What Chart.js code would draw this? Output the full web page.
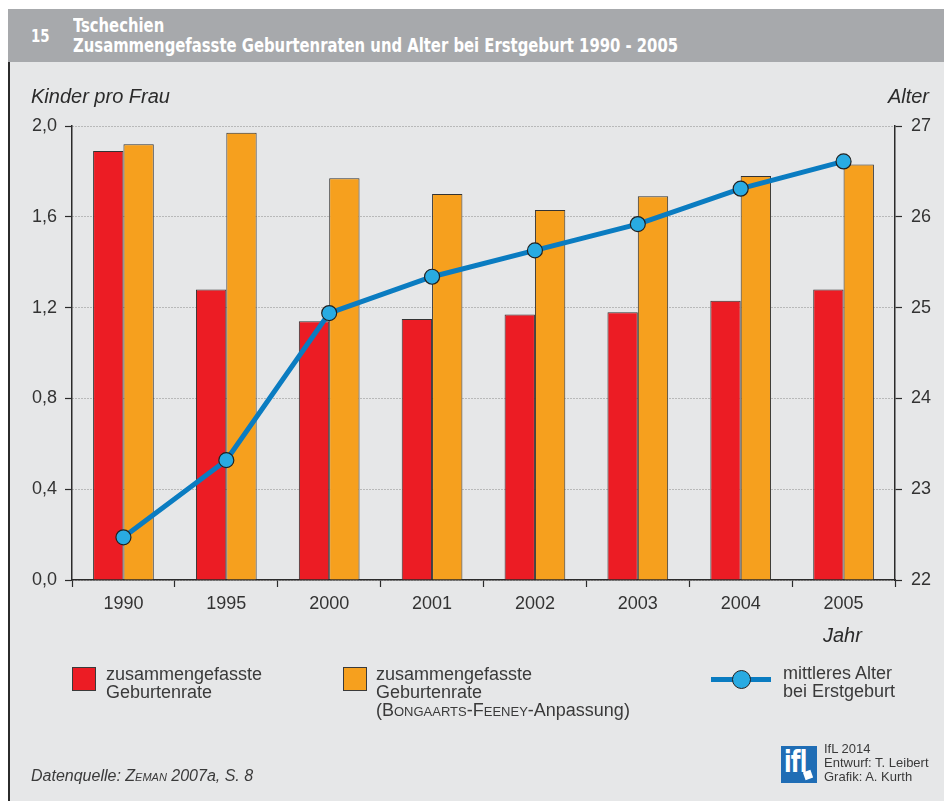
<!DOCTYPE html>
<html lang="de">
<head>
<meta charset="utf-8">
<title>Tschechien – Geburtenraten und Alter bei Erstgeburt</title>
<script src="https://cdn.jsdelivr.net/npm/chart.js@4"></script>
<style>
  html, body { margin: 0; padding: 0; background: #fff; }
  body { width: 944px; height: 801px; position: relative; overflow: hidden;
         font-family: "Liberation Sans", Arial, sans-serif; color: #333; }
  .abs { position: absolute; white-space: nowrap; }
  #head { left: 8px; top: 9px; width: 936px; height: 53px; background: #a7a9ac; }
  #panel { left: 8px; top: 62px; width: 936px; height: 739px; background: #e6e7e8;
           border-left: 2px solid #2b2b2b; box-sizing: border-box; }
  #c { position: absolute; left: 0; top: 0; }
  .hd { color: #fff; font-family: "DejaVu Sans Condensed", "Liberation Sans", sans-serif;
        font-weight: bold; transform: scaleX(0.824); transform-origin: 0 0; }
  .axt { font-style: italic; font-size: 20px; line-height: 20px; color: #2b2b2b; }
  .leg { font-size: 18px; line-height: 18px; color: #3a3a3a; }
  .sw { position: absolute; width: 22px; height: 22px; border: 1px solid #3a3a3a; }
  .sc { font-variant: small-caps; }
</style>
</head>
<body>
<div id="head" class="abs"></div>
<div id="panel" class="abs"></div>

<div class="abs hd" style="left:31px; top:27px; font-size:18px; line-height:18px;">15</div>
<div class="abs hd" style="left:73px; top:15px; font-size:20px; line-height:20px;">Tschechien<br>Zusammengefasste Geburtenraten und Alter bei Erstgeburt 1990 - 2005</div>

<canvas id="c" width="944" height="801"></canvas>

<div class="abs axt" style="left:31px; top:86px;">Kinder pro Frau</div>
<div class="abs axt" style="right:15px; top:86px;">Alter</div>
<div class="abs axt" style="left:823px; top:625px;">Jahr</div>

<!-- legend -->
<div class="sw" style="left:72px; top:667px; background:#ec1c24;"></div>
<div class="abs leg" style="left:106px; top:665px;">zusammengefasste<br>Geburtenrate</div>
<div class="sw" style="left:343px; top:667px; background:#f6a01e;"></div>
<div class="abs leg" style="left:376px; top:665px;">zusammengefasste<br>Geburtenrate<br>(<span class="sc">Bongaarts</span>-<span class="sc">Feeney</span>-Anpassung)</div>
<div class="abs" style="left:711px; top:677px; width:60px; height:5px; background:#0a7cc1;"></div>
<div class="abs" style="left:732px; top:670px; width:17px; height:17px; border-radius:50%; background:#29abe2; border:1px solid #222;"></div>
<div class="abs leg" style="left:783px; top:664px;">mittleres Alter<br>bei Erstgeburt</div>

<!-- source and credits -->
<div class="abs" style="left:31px; top:768px; font-size:16px; line-height:16px; font-style:italic; color:#3a3a3a;">Datenquelle: <span class="sc">Zeman</span> 2007a, S. 8</div>
<div class="abs" style="left:781px; top:746px; width:36px; height:37px; background:#1f6db5; overflow:hidden;">
  <div class="abs hd" style="left:3px; top:1px; font-size:30px; line-height:30px; letter-spacing:-1px;">ifl</div>
  <div class="abs" style="left:23px; top:25px; width:8px; height:8px; background:#fff; transform:rotate(-20deg);"></div>
</div>
<div class="abs" style="left:824px; top:742px; font-size:13px; line-height:14px; color:#3a3a3a;">IfL 2014<br>Entwurf: T. Leibert<br>Grafik: A. Kurth</div>

<script>
const years = ['1990', '1995', '2000', '2001', '2002', '2003', '2004', '2005'];
const tfr = [1.89, 1.28, 1.14, 1.15, 1.17, 1.18, 1.23, 1.28];      // zusammengefasste Geburtenrate
const tfrAdj = [1.92, 1.97, 1.77, 1.70, 1.63, 1.69, 1.78, 1.83];   // Bongaarts-Feeney
const ageFirst = [22.47, 23.32, 24.94, 25.34, 25.63, 25.92, 26.31, 26.61];
const leftTicks = ['0,0', '0,4', '0,8', '1,2', '1,6', '2,0'];
const rightTicks = ['22', '23', '24', '25', '26', '27'];

const tickFont = { family: '"Liberation Sans", Arial, sans-serif', size: 18 };
const ink = '#2b2b2b';

const chart = new Chart(document.getElementById('c').getContext('2d'), {
    type: 'bar',
    data: {
        labels: years,
        datasets: [
            {
                type: 'line',
                label: 'mittleres Alter bei Erstgeburt',
                data: ageFirst,
                yAxisID: 'y1',
                order: 0,
                borderColor: '#0a7cc1',
                borderWidth: 5,
                tension: 0,
                pointRadius: 7.5,
                pointBackgroundColor: '#29abe2',
                pointBorderColor: '#222',
                pointBorderWidth: 1.2
            },
            {
                label: 'zusammengefasste Geburtenrate',
                data: tfr,
                yAxisID: 'y',
                order: 1,
                backgroundColor: '#ec1c24',
                borderColor: '#333',
                borderWidth: 1,
                categoryPercentage: 0.59,
                barPercentage: 1.0
            },
            {
                label: 'zusammengefasste Geburtenrate (Bongaarts-Feeney-Anpassung)',
                data: tfrAdj,
                yAxisID: 'y',
                order: 1,
                backgroundColor: '#f6a01e',
                borderColor: '#333',
                borderWidth: 1,
                categoryPercentage: 0.59,
                barPercentage: 1.0
            }
        ]
    },
    options: {
        responsive: false,
        animation: false,
        devicePixelRatio: 1,
        layout: { padding: { top: 126, left: 0, right: 0, bottom: 0 } },
        plugins: { legend: { display: false }, tooltip: { enabled: false } },
        scales: {
            x: {
                afterFit: s => { s.height = 221; },
                grid: { drawOnChartArea: false, offset: true, tickLength: 7, tickColor: ink, tickWidth: 1.2 },
                border: { color: ink, width: 1.5 },
                ticks: { font: tickFont, color: '#333', padding: 6, maxRotation: 0 }
            },
            y: {
                position: 'left',
                min: 0, max: 2,
                afterFit: s => { s.width = 72; },
                afterBuildTicks: s => { s.ticks = leftTicks.map((t, i) => ({ value: i * 0.4 })); },
                grid: { color: '#8a8a8a', lineWidth: 1, borderDash: [1, 2], tickLength: 7,
                        tickColor: ink, tickWidth: 1.2, tickBorderDash: [] },
                border: { color: ink, width: 1.5, dash: [1, 2] },
                ticks: { font: tickFont, color: '#333', padding: 8,
                         callback: (v, i) => leftTicks[i] }
            },
            y1: {
                position: 'right',
                min: 22, max: 27,
                afterFit: s => { s.width = 49; },
                afterBuildTicks: s => { s.ticks = rightTicks.map(t => ({ value: Number(t) })); },
                grid: { drawOnChartArea: false, tickLength: 7, tickColor: ink, tickWidth: 1.2 },
                border: { color: ink, width: 1.5 },
                ticks: { font: tickFont, color: '#333', padding: 9,
                         callback: (v, i) => rightTicks[i] }
            }
        }
    }
});
</script>
</body>
</html>
